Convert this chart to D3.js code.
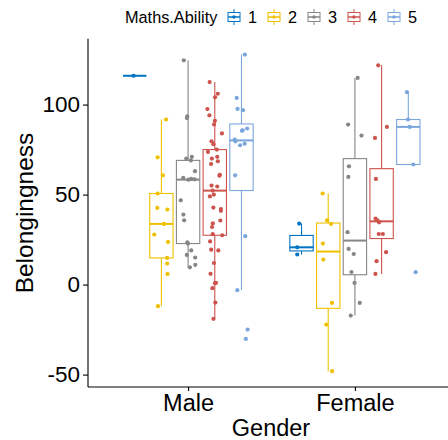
<!DOCTYPE html>
<html>
<head>
<meta charset="utf-8">
<script src="https://cdn.jsdelivr.net/npm/d3@7"></script>
<style>
  html, body { margin: 0; padding: 0; background: #fff; }
  svg { display: block; }
  text { font-family: "Liberation Sans", Arial, sans-serif; }
</style>
</head>
<body>
<svg id="chart" width="448" height="440"></svg>
<script>
// ---- data ----
const genders = ["Male", "Female"];
const abilities = ["1", "2", "3", "4", "5"];
const colors = ["#0073C2", "#EFC000", "#868686", "#CD534C", "#7AA6DC"];
const yTicks = [-50, 0, 50, 100];

const male1 = [116];
const male2 = [91.7, 70.7, 60.7, 50.6, 42.6, 41.7, 33.7, 27.8, 23.7, 14.8, 11.7, 5.9, -12];
const male3 = [124.6, 93.5, 92.5, 71, 70, 69, 63, 59.3, 58.7, 58.5, 58.3,
               46.8, 38.9, 35.7, 23.5, 22.8, 19, 16.5, 15, 11, 9.6];
const male4 = [112.5, 106, 104, 97.5, 94, 91, 89, 84, 79.6, 78, 75, 73.7, 71, 70, 68.5, 67,
               61, 60.5, 55, 54.5, 52.2, 50, 49, 42.8, 42, 41, 35.6, 34, 32, 28, 27.4, 24,
               19.4, 19, 12, 6, 1, 0.8, -2, -10, -19];
const male5 = [127.8, 103.7, 97.6, 96.9, 86.7, 85.7, 85.5, 80.6, 79.6, 78.3, 77.4, 60.7, 26.9, -3.1, -25, -30.2];

const female1 = [33.9, 20.7, 16.7];
const female2 = [50.6, 35.7, 33.7, 22.8, 13.9, -10.2, -22.2, -48.1];
const female3 = [114.8, 88.9, 82.8, 65.7, 59.8, 29.1, 19.8, 17, 7, 0.9, -10.2, -17.2];
const female4 = [121.8, 87.6, 81.5, 58.7, 36.7, 35.7, 34.6, 28.1, 28.1, 18, 13, 5.9];
const female5 = [106.9, 91.7, 87.6, 66.7, 6.9];

const groups = [
  {g: "Male", a: "1", v: male1}, {g: "Male", a: "2", v: male2}, {g: "Male", a: "3", v: male3},
  {g: "Male", a: "4", v: male4}, {g: "Male", a: "5", v: male5},
  {g: "Female", a: "1", v: female1}, {g: "Female", a: "2", v: female2}, {g: "Female", a: "3", v: female3},
  {g: "Female", a: "4", v: female4}, {g: "Female", a: "5", v: female5}
];

(function () {
// ---- layout ----
const svg = d3.select("#chart");
const mLeft = 88, mBottom = 387, mTop = 38.7;
const allV = groups.flatMap(d => d.v);
const ext = d3.extent(allV);
const pad = (ext[1] - ext[0]) * 0.05;
const y = d3.scaleLinear().domain([ext[0] - pad, ext[1] + pad]).range([mBottom, mTop]);
// discrete x positions 1..n with 0.6 expansion (plot extends past right edge)
const x = d3.scaleLinear().domain([0.4, 2.6]).range([mLeft, 455]);
const gPos = d3.scaleOrdinal().domain(genders).range([1, 2]);
const color = d3.scaleOrdinal().domain(abilities).range(colors);
const dodge = 0.8, boxW = 0.7 / abilities.length;
const slot = dodge / abilities.length;
const rng = d3.randomLcg(0.4217);
const jitter = d3.randomUniform.source(rng)(-0.045, 0.045);

function stats(v) {
  const s = v.slice().sort(d3.ascending);
  const q1 = d3.quantileSorted(s, 0.25), med = d3.quantileSorted(s, 0.5), q3 = d3.quantileSorted(s, 0.75);
  const iqr = q3 - q1;
  const lo = d3.min(s.filter(d => d >= q1 - 1.5 * iqr));
  const hi = d3.max(s.filter(d => d <= q3 + 1.5 * iqr));
  return {q1, med, q3, lo, hi};
}

const plot = svg.append("g");
groups.forEach(grp => {
  const i = abilities.indexOf(grp.a);
  const cx = gPos(grp.g) + (i - (abilities.length - 1) / 2) * slot;
  const c = color(grp.a);
  const s = stats(grp.v);
  const gg = plot.append("g");
  gg.append("line").attr("x1", x(cx)).attr("x2", x(cx)).attr("y1", y(s.hi)).attr("y2", y(s.q3))
    .attr("stroke", c).attr("stroke-width", 1.1);
  gg.append("line").attr("x1", x(cx)).attr("x2", x(cx)).attr("y1", y(s.q1)).attr("y2", y(s.lo))
    .attr("stroke", c).attr("stroke-width", 1.1);
  gg.append("rect").attr("x", x(cx - boxW / 2)).attr("width", x(cx + boxW / 2) - x(cx - boxW / 2))
    .attr("y", y(s.q3)).attr("height", Math.max(0, y(s.q1) - y(s.q3)))
    .attr("fill", "#fff").attr("stroke", c).attr("stroke-width", 1.1);
  gg.append("line").attr("x1", x(cx - boxW / 2)).attr("x2", x(cx + boxW / 2))
    .attr("y1", y(s.med)).attr("y2", y(s.med)).attr("stroke", c).attr("stroke-width", 2);
  gg.selectAll("circle").data(grp.v).join("circle")
    .attr("cx", () => x(cx + jitter())).attr("cy", d => y(d)).attr("r", 2.1).attr("fill", c);
});

// ---- axes ----
const yAxis = svg.append("g").attr("transform", `translate(${mLeft},0)`)
  .call(d3.axisLeft(y).tickValues(yTicks).tickSize(5).tickPadding(3).tickFormat(d3.format("d")));
yAxis.select(".domain").attr("d", `M0,${mTop}V${mBottom}`).attr("stroke", "#000").attr("stroke-width", 1.1);
yAxis.selectAll(".tick line").attr("stroke", "#000").attr("stroke-width", 1.1);
yAxis.selectAll(".tick text").attr("font-size", 22.5).attr("fill", "#000")
  .attr("font-family", "Liberation Sans, Arial, sans-serif").text(d => d < 0 ? "-" + Math.abs(d) : d);

const xAxis = svg.append("g").attr("transform", `translate(0,${mBottom})`)
  .call(d3.axisBottom(x).tickValues(genders.map(gPos)).tickSize(4).tickPadding(3)
    .tickFormat((d, i) => genders[i]));
xAxis.select(".domain").attr("d", `M${mLeft},0H460`).attr("stroke", "#000").attr("stroke-width", 1.1);
xAxis.selectAll(".tick line").attr("stroke", "#000").attr("stroke-width", 1.1);
xAxis.selectAll(".tick text").attr("font-size", 23.5).attr("fill", "#000")
  .attr("font-family", "Liberation Sans, Arial, sans-serif").attr("dy", "0.71em");

svg.append("text").attr("x", 271).attr("y", 435.5).attr("text-anchor", "middle")
  .attr("font-size", 23.5).text("Gender");
svg.append("text").attr("transform", "translate(33,213) rotate(-90)").attr("text-anchor", "middle")
  .attr("font-size", 24.5).text("Belongingness");

// ---- legend ----
const leg = svg.append("g");
leg.append("text").attr("x", 125).attr("y", 23).attr("font-size", 16.3).text("Maths.Ability");
abilities.forEach((a, i) => {
  const kx = 234 + i * 40, ky = 17;
  const c = color(a);
  const k = leg.append("g");
  k.append("line").attr("x1", kx).attr("x2", kx).attr("y1", ky - 8).attr("y2", ky + 8)
    .attr("stroke", c).attr("stroke-width", 1);
  k.append("rect").attr("x", kx - 6).attr("y", ky - 4.5).attr("width", 12).attr("height", 9)
    .attr("fill", "#fff").attr("stroke", c).attr("stroke-width", 1);
  k.append("line").attr("x1", kx - 6).attr("x2", kx + 6).attr("y1", ky).attr("y2", ky)
    .attr("stroke", c).attr("stroke-width", 1.5);
  k.append("circle").attr("cx", kx).attr("cy", ky).attr("r", 1.8).attr("fill", c);
  leg.append("text").attr("x", kx + 14).attr("y", 23).attr("font-size", 16.3).text(a);
});
})();
</script>
</body>
</html>
